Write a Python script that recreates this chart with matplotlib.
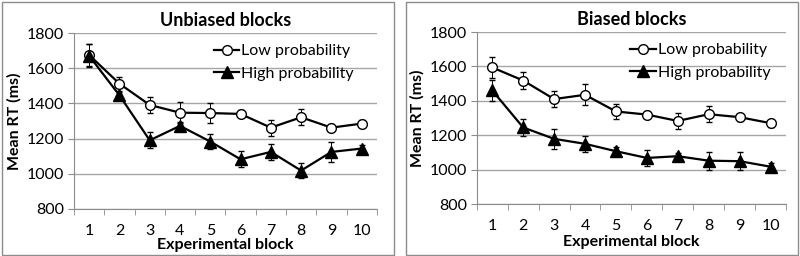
import numpy as np
import matplotlib.pyplot as plt
from matplotlib.patches import Rectangle

plt.rcParams['font.family'] = ['Lato', 'DejaVu Sans']

blocks = [1, 2, 3, 4, 5, 6, 7, 8, 9, 10]

# Unbiased blocks
unb_low = [1675, 1512, 1391, 1347, 1345, 1340, 1262, 1321, 1262, 1285]
unb_low_err = [65, 40, 45, 60, 55, 20, 45, 45, 20, 20]
unb_high = [1670, 1446, 1190, 1272, 1183, 1082, 1124, 1018, 1124, 1143]
unb_high_err = [65, 20, 45, 20, 45, 45, 45, 45, 55, 20]

# Biased blocks
bia_low = [1594, 1518, 1410, 1435, 1338, 1320, 1283, 1322, 1305, 1270]
bia_low_err = [60, 47, 45, 60, 45, 20, 45, 45, 20, 20]
bia_high = [1460, 1245, 1179, 1150, 1107, 1068, 1078, 1052, 1049, 1017]
bia_high_err = [63, 50, 58, 48, 25, 46, 20, 53, 54, 20]

fig = plt.figure(figsize=(8, 2.56), dpi=100)

# panel frames
fig.patches.append(Rectangle((0.002, 0.004), 0.49, 0.99, transform=fig.transFigure,
                             fill=False, edgecolor='#8c8c8c', linewidth=1))
fig.patches.append(Rectangle((0.507, 0.004), 0.49, 0.99, transform=fig.transFigure,
                             fill=False, edgecolor='#8c8c8c', linewidth=1))


def draw_panel(ax, title, low, low_err, high, high_err, labelpad, legx):
    ax.errorbar(blocks, low, yerr=low_err, fmt='none', ecolor='black',
                elinewidth=0.7, capsize=2.5, capthick=1, zorder=2)
    ax.errorbar(blocks, high, yerr=high_err, fmt='none', ecolor='black',
                elinewidth=0.7, capsize=2.5, capthick=1, zorder=2)
    ax.plot(blocks, low, '-o', color='black', lw=1.6, ms=7, mfc='white',
            mec='black', mew=1, label='Low probability', zorder=3)
    ax.plot(blocks, high, '-^', color='black', lw=1.6, ms=8, mfc='black',
            mec='black', label='High probability', zorder=3)

    ax.set_xlim(0.5, 10.5)
    ax.set_ylim(800, 1800)
    ax.set_yticks([800, 1000, 1200, 1400, 1600, 1800])
    ax.set_xticks(blocks)
    ax.set_xticks(np.arange(0.5, 11, 1), minor=True)
    ax.tick_params(axis='x', which='major', length=0, labelsize=11.5, pad=11)
    ax.tick_params(axis='x', which='minor', length=4, color='#8c8c8c', direction='out')
    ax.tick_params(axis='y', length=4, color='#8c8c8c', labelsize=11.5, pad=3)
    ax.grid(axis='y', color='#a6a6a6', lw=1)
    ax.set_axisbelow(True)
    for s in ['top', 'right']:
        ax.spines[s].set_visible(False)
    ax.spines['left'].set_color('#8c8c8c')
    ax.spines['bottom'].set_color('#8c8c8c')
    ax.set_title(title, fontsize=13, fontweight='bold', pad=5)
    ax.set_xlabel('Experimental block', fontsize=11.5, fontweight='bold', labelpad=labelpad)
    ax.set_ylabel('Mean RT (ms)', fontsize=11.5, fontweight='bold', labelpad=4)
    ax.legend(loc='upper right', bbox_to_anchor=(legx, 1.0), frameon=False,
              fontsize=11.5, handlelength=1.6, handletextpad=0.1,
              borderaxespad=0.3, labelspacing=0.5)


ax1 = fig.add_axes([0.0925, 0.184, 0.3785, 0.687])
draw_panel(ax1, 'Unbiased blocks', unb_low, unb_low_err, unb_high, unb_high_err, 0, 0.96)

ax2 = fig.add_axes([0.596, 0.203, 0.3865, 0.672])
draw_panel(ax2, 'Biased blocks', bia_low, bia_low_err, bia_high, bia_high_err, 1.5, 0.985)

fig.savefig('out.png', dpi=100)
